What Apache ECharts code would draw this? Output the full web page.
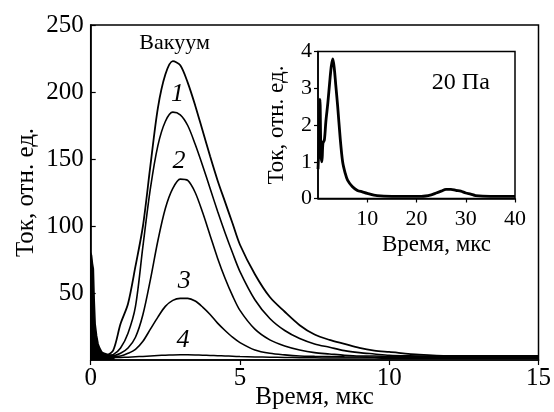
<!DOCTYPE html>
<html><head><meta charset="utf-8">
<script src="https://cdn.jsdelivr.net/npm/echarts@6.0.0/dist/echarts.min.js"></script>
<style>html,body{margin:0;padding:0;background:#fff}#c{width:554px;height:412px}</style>
</head><body><div id="c"></div>
<script>
// ---- main chart data (time in µs, current in rel. units) ----
const T = [0.5, 0.75, 1.0, 1.25, 1.5, 1.75, 2.0, 2.25, 2.5, 2.75, 3.0, 3.25, 3.5, 3.75, 4.0, 4.25, 4.5, 4.75, 5.0, 5.5, 6.0, 6.5, 7.0, 7.5, 8.0, 8.5, 9.0, 9.5, 10, 11, 12, 13, 14, 15];
const vacuum = [3, 7, 27, 42, 70, 100, 145, 188, 213, 223, 220, 207, 190, 171, 152, 134, 118, 102, 86, 64, 47, 36, 26, 19, 15, 12, 9, 7, 6, 4, 3, 3, 3, 3];
const curve1 = [3, 4, 9, 20, 40, 85, 128, 160, 178, 185, 183, 175, 161, 145, 128, 111, 95, 80, 66, 45, 31, 22, 16, 12, 9.5, 7, 5.5, 4.5, 3.5, 3, 2.5, 2.5, 2.5, 2.5];
const curve2 = [2, 3, 5, 9, 17, 34, 60, 89, 113, 128, 135, 134, 125, 110, 93, 76, 61, 48, 37, 23, 15, 10.5, 7.5, 5.5, 4.5, 3.5, 3, 3, 2.5, 2.5, 2.5, 2.5, 2.5, 2.5];
const curve3 = [2, 2.5, 3, 5, 8, 14, 23, 32, 40, 44.5, 46, 46, 44, 39.5, 34, 27.5, 22, 17, 13, 7.5, 5, 3.8, 3, 2.7, 2.5, 2.3, 2.2, 2.1, 2, 2, 2, 2, 2, 2];
const curve4 = [1.5, 1.7, 1.9, 2.1, 2.4, 2.7, 3.0, 3.3, 3.6, 3.8, 3.9, 3.9, 3.8, 3.6, 3.4, 3.2, 3.0, 2.8, 2.6, 2.3, 2.1, 1.9, 1.7, 1.6, 1.5, 1.5, 1.4, 1.4, 1.3, 1.3, 1.3, 1.3, 1.3, 1.3];
// initial noise burst near t = 0
const noiseT = [0, 0.03, 0.06, 0.09, 0.12, 0.15, 0.2, 0.25, 0.3, 0.37, 0.45, 0.6, 0.8];
const noiseV = [80, 78, 72, 68, 44, 27, 18, 12, 9, 6, 5, 4, 3.5];
// ---- inset data (20 Pa) ----
const insetT = [0, 0.2, 0.4, 0.6, 0.8, 1.0, 1.3, 1.6, 2.0, 2.4, 2.7, 3.0, 3.3, 3.6, 4.0, 4.5, 5.0, 5.5, 6, 7, 8, 9, 10, 12, 15, 18, 21, 23, 24, 25, 26, 27, 28, 29, 30, 31, 32, 35, 38, 40];
const insetV = [0.8, 1.5, 2.7, 1.2, 1.0, 1.5, 1.6, 2.1, 2.6, 3.2, 3.6, 3.8, 3.55, 3.1, 2.5, 1.65, 1.0, 0.7, 0.5, 0.32, 0.22, 0.18, 0.14, 0.08, 0.06, 0.06, 0.06, 0.1, 0.15, 0.2, 0.25, 0.25, 0.22, 0.2, 0.15, 0.12, 0.08, 0.06, 0.06, 0.06];
// ---- tick settings / labels ----
const mainX = {min: 0, max: 15, interval: 5};
const mainY = {min: 0, max: 250, interval: 50};
const insX = {min: 0, max: 40, interval: 10};
const insY = {min: 0, max: 4, interval: 1};
const xName = 'Время, мкс';
const yName = 'Ток, отн. ед.';
// annotation texts anchored in data coordinates
const mainNotes = [
  {text: 'Вакуум', x: 2.81, y: 236.5, italic: false},
  {text: '1', x: 2.91, y: 198.4, italic: true},
  {text: '2', x: 2.96, y: 148.4, italic: true},
  {text: '3', x: 3.13, y: 58.7, italic: true},
  {text: '4', x: 3.09, y: 14.6, italic: true}
];
const insetNote = {text: '20 Па', x: 29.0, y: 3.14};

const FONT = "'Liberation Serif','Times New Roman',serif";
const pairs = (xs, ys) => xs.map((x, i) => [x, ys[i]]);
const chart = echarts.init(document.getElementById('c'), null, {renderer: 'canvas'});

function axisCommon(extra) {
  return Object.assign({
    type: 'value',
    splitLine: {show: false},
    axisLine: {show: true, lineStyle: {color: '#000', width: 1.5}},
    axisTick: {show: true, lineStyle: {color: '#000', width: 1.2}},
    axisLabel: {color: '#000', fontFamily: FONT},
    nameLocation: 'middle',
    nameMoveOverlap: false,
    nameTextStyle: {color: '#000', fontFamily: FONT}
  }, extra);
}
function line(data, xi, w) {
  return {type: 'line', data: data, xAxisIndex: xi, yAxisIndex: xi, showSymbol: false, smooth: 0.3,
    lineStyle: {color: '#000', width: w}, silent: true, z: 3};
}

const option = {
  animation: false,
  backgroundColor: '#fff',
  grid: [
    {left: 90.7, right: 15.5, top: 25, bottom: 52, show: true, borderColor: '#000', borderWidth: 1.5, outerBoundsMode: 'none', containLabel: false},
    {left: 318, right: 39, top: 51.5, bottom: 213.5, show: true, borderColor: '#000', borderWidth: 1.5, outerBoundsMode: 'none', containLabel: false}
  ],
  xAxis: [
    axisCommon(Object.assign({gridIndex: 0, name: xName, nameGap: 25,
      axisTick: {show: true, inside: false, length: 5, lineStyle: {color: '#000', width: 1.2}},
      axisLabel: {color: '#000', fontFamily: FONT, fontSize: 25, margin: 6},
      nameTextStyle: {color: '#000', fontFamily: FONT, fontSize: 25}}, mainX)),
    axisCommon(Object.assign({gridIndex: 1, name: xName, nameGap: 35,
      axisTick: {show: true, inside: false, length: 4, lineStyle: {color: '#000', width: 1.2}},
      axisLabel: {color: '#000', fontFamily: FONT, fontSize: 22, margin: 10, showMinLabel: false},
      nameTextStyle: {color: '#000', fontFamily: FONT, fontSize: 23, padding: [0, 0, 0, 40]}}, insX))
  ],
  yAxis: [
    axisCommon(Object.assign({gridIndex: 0, name: yName, nameGap: 52,
      axisTick: {show: true, inside: true, length: 5, lineStyle: {color: '#000', width: 1.2}},
      axisLabel: {color: '#000', fontFamily: FONT, fontSize: 25, margin: 7, showMinLabel: false},
      nameTextStyle: {color: '#000', fontFamily: FONT, fontSize: 25}}, mainY)),
    axisCommon(Object.assign({gridIndex: 1, name: yName, nameGap: 30,
      axisTick: {show: true, inside: false, length: 4, lineStyle: {color: '#000', width: 1.2}},
      axisLabel: {color: '#000', fontFamily: FONT, fontSize: 22, margin: 6},
      nameTextStyle: {color: '#000', fontFamily: FONT, fontSize: 23}}, insY))
  ],
  series: [
    {type: 'line', data: pairs(noiseT, noiseV), xAxisIndex: 0, yAxisIndex: 0, showSymbol: false,
      lineStyle: {color: '#000', width: 1.5}, areaStyle: {color: '#000', opacity: 1}, silent: true, z: 2},
    line(pairs(T, curve4), 0, 1.5),
    line(pairs(T, curve3), 0, 1.6),
    line(pairs(T, curve2), 0, 1.6),
    line(pairs(T, curve1), 0, 1.6),
    line(pairs(T, vacuum), 0, 1.8),
    line(pairs(insetT, insetV), 1, 2.8)
  ]
};
chart.setOption(option);

// place annotations from data coordinates
const graphics = mainNotes.map(n => {
  const p = chart.convertToPixel({gridIndex: 0}, [n.x, n.y]);
  return {type: 'text', x: p[0], y: p[1], z: 10, silent: true,
    style: {text: n.text, fill: '#000', align: 'center', verticalAlign: 'middle',
      font: (n.italic ? 'italic 26px ' : '22px ') + FONT}};
});
const ip = chart.convertToPixel({gridIndex: 1}, [insetNote.x, insetNote.y]);
graphics.push({type: 'text', x: ip[0], y: ip[1], z: 10, silent: true,
  style: {text: insetNote.text, fill: '#000', align: 'center', verticalAlign: 'middle', font: '24px ' + FONT}});
chart.setOption({graphic: graphics});
</script></body></html>
